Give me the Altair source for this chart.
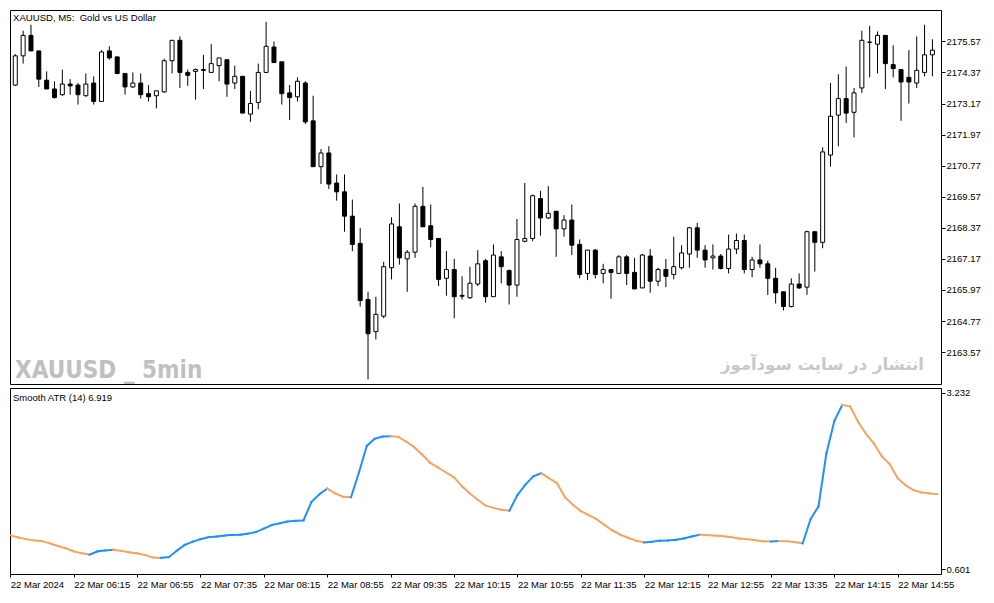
import altair as alt
import pandas as pd
import json

# ---- XAUUSD M5 candles (prices) ----
opens = [2173.88, 2175.01, 2175.80, 2175.20, 2174.07, 2173.73, 2173.51, 2173.92, 2173.88, 2173.47,
         2173.96, 2173.25, 2175.20, 2174.97, 2174.33, 2173.81, 2173.96, 2173.55, 2173.47, 2173.62,
         2174.82, 2175.61, 2174.37, 2174.41, 2174.48, 2174.37, 2174.63, 2174.86, 2173.96, 2174.22,
         2172.76, 2173.21, 2174.37, 2175.35, 2174.78, 2173.58, 2173.43, 2173.96, 2172.50, 2170.73,
         2171.26, 2170.10, 2169.76, 2168.82, 2167.77, 2165.60, 2164.36, 2164.96, 2166.83, 2168.41,
         2167.17, 2167.43, 2169.20, 2168.45, 2167.96, 2166.42, 2166.76, 2165.76, 2165.67, 2166.20,
         2167.10, 2165.71, 2167.25, 2166.72, 2166.16, 2167.85, 2167.96, 2169.50, 2168.75, 2169.01,
         2168.33, 2168.67, 2167.73, 2166.61, 2167.51, 2166.61, 2166.76, 2166.61, 2167.25, 2166.65,
         2166.05, 2167.28, 2166.31, 2166.76, 2166.57, 2166.83, 2167.36, 2168.37, 2167.51, 2167.21,
         2167.28, 2166.80, 2167.55, 2167.88, 2166.76, 2167.13, 2166.98, 2166.42, 2165.90, 2165.33,
         2166.20, 2166.08, 2168.22, 2167.81, 2171.18, 2172.72, 2173.36, 2172.83, 2173.77, 2175.53,
         2175.46, 2175.80, 2174.67, 2174.48, 2174.18, 2173.96, 2174.37, 2175.05]
highs = [2175.08, 2175.98, 2176.21, 2175.20, 2174.41, 2174.03, 2174.48, 2174.11, 2173.96, 2174.33,
         2174.22, 2175.23, 2175.38, 2174.97, 2174.33, 2174.37, 2174.33, 2173.88, 2173.66, 2174.90,
         2175.61, 2175.76, 2174.48, 2174.52, 2175.05, 2175.46, 2174.93, 2174.86, 2174.63, 2174.22,
         2173.66, 2174.71, 2176.32, 2175.57, 2174.78, 2173.88, 2174.18, 2174.03, 2173.47, 2171.41,
         2171.52, 2170.43, 2170.43, 2169.46, 2168.37, 2165.90, 2165.71, 2167.06, 2168.78, 2169.31,
         2167.51, 2169.31, 2169.95, 2169.27, 2167.96, 2167.47, 2167.17, 2166.50, 2166.87, 2167.51,
         2167.17, 2167.73, 2167.47, 2166.76, 2168.71, 2170.10, 2169.65, 2169.80, 2169.98, 2169.01,
         2168.86, 2169.27, 2167.92, 2167.51, 2167.55, 2166.98, 2166.76, 2167.32, 2167.32, 2167.21,
         2167.36, 2167.55, 2166.83, 2167.17, 2168.03, 2167.70, 2168.41, 2168.56, 2167.70, 2167.73,
         2167.36, 2168.11, 2168.15, 2168.11, 2167.25, 2167.73, 2167.10, 2166.83, 2165.90, 2166.42,
         2166.61, 2168.26, 2168.22, 2171.48, 2173.96, 2174.30, 2174.60, 2173.77, 2175.98, 2176.17,
         2175.95, 2175.80, 2175.42, 2174.48, 2175.23, 2175.76, 2176.21, 2175.65]
lows = [2173.85, 2174.71, 2175.20, 2173.81, 2173.73, 2173.36, 2173.47, 2173.51, 2173.13, 2173.43,
        2173.13, 2173.25, 2174.86, 2174.30, 2173.51, 2173.77, 2173.36, 2173.25, 2172.98, 2173.58,
        2174.33, 2173.77, 2173.85, 2173.32, 2173.73, 2174.37, 2174.03, 2173.43, 2173.73, 2172.80,
        2172.46, 2172.95, 2174.37, 2174.75, 2173.13, 2172.53, 2173.25, 2172.38, 2170.73, 2170.06,
        2169.87, 2169.42, 2168.22, 2167.47, 2165.33, 2162.52, 2164.06, 2164.88, 2166.38, 2166.95,
        2165.90, 2167.21, 2168.41, 2167.62, 2166.12, 2165.75, 2164.88, 2165.60, 2165.63, 2166.12,
        2165.48, 2165.71, 2166.23, 2165.41, 2165.71, 2167.81, 2167.85, 2168.07, 2168.71, 2167.25,
        2168.03, 2167.32, 2166.42, 2166.35, 2166.42, 2166.23, 2165.63, 2166.61, 2166.16, 2166.01,
        2166.05, 2165.86, 2166.12, 2166.08, 2166.38, 2166.76, 2166.83, 2167.21, 2166.83, 2166.76,
        2166.76, 2166.61, 2167.36, 2166.61, 2166.46, 2166.83, 2165.78, 2165.45, 2165.18, 2165.30,
        2166.01, 2165.78, 2166.68, 2167.58, 2170.73, 2171.52, 2172.42, 2171.86, 2173.58, 2174.18,
        2174.33, 2173.73, 2174.18, 2172.50, 2173.17, 2173.77, 2174.22, 2174.22]
closes = [2175.01, 2175.80, 2175.20, 2174.11, 2173.73, 2173.40, 2173.92, 2173.85, 2173.51, 2173.92,
          2173.25, 2175.16, 2174.93, 2174.33, 2173.81, 2173.96, 2173.51, 2173.43, 2173.66, 2174.82,
          2175.61, 2174.37, 2174.26, 2174.48, 2174.45, 2174.71, 2174.93, 2173.92, 2174.22, 2172.80,
          2173.17, 2174.37, 2175.38, 2174.75, 2173.55, 2173.40, 2174.03, 2172.46, 2170.73, 2171.26,
          2170.06, 2169.76, 2168.82, 2167.73, 2165.56, 2164.28, 2165.03, 2166.87, 2168.52, 2167.21,
          2167.43, 2169.20, 2168.41, 2167.92, 2166.38, 2166.76, 2165.71, 2165.73, 2166.23, 2166.98,
          2165.71, 2167.32, 2166.87, 2166.16, 2167.92, 2167.96, 2169.61, 2168.75, 2168.93, 2168.33,
          2168.67, 2167.70, 2166.57, 2167.51, 2166.57, 2166.76, 2166.65, 2167.25, 2166.61, 2166.01,
          2167.32, 2166.31, 2166.76, 2166.50, 2166.87, 2167.40, 2168.37, 2167.51, 2167.13, 2167.28,
          2166.80, 2167.55, 2167.88, 2166.76, 2167.13, 2166.98, 2166.42, 2165.86, 2165.33, 2166.20,
          2166.05, 2168.22, 2167.81, 2171.30, 2172.68, 2173.36, 2172.80, 2173.58, 2175.61, 2175.54,
          2175.80, 2174.71, 2174.52, 2174.00, 2174.00, 2174.45, 2175.05, 2175.23]

# ---- Smooth ATR (14) ----
atr = [1.108, 1.075, 1.051, 1.032, 1.022, 0.989, 0.950, 0.917, 0.870, 0.841,
       0.821, 0.870, 0.884, 0.893, 0.878, 0.855, 0.841, 0.816, 0.778, 0.773,
       0.783, 0.878, 0.965, 1.013, 1.051, 1.080, 1.090, 1.104, 1.114, 1.116,
       1.133, 1.157, 1.209, 1.262, 1.287, 1.315, 1.324, 1.330, 1.603, 1.718,
       1.804, 1.732, 1.683, 1.675, 2.043, 2.441, 2.546, 2.578, 2.583, 2.571,
       2.499, 2.417, 2.307, 2.187, 2.115, 2.043, 1.971, 1.837, 1.732, 1.636,
       1.550, 1.517, 1.488, 1.476, 1.708, 1.862, 1.985, 2.034, 1.957, 1.885,
       1.675, 1.564, 1.468, 1.410, 1.348, 1.262, 1.180, 1.118, 1.071, 1.028,
       1.003, 1.013, 1.028, 1.032, 1.042, 1.061, 1.090, 1.118, 1.112, 1.104,
       1.094, 1.080, 1.061, 1.051, 1.037, 1.020, 1.018, 1.022, 1.021, 1.008,
       0.989, 1.348, 1.540, 2.330, 2.811, 3.049, 3.026, 2.796, 2.618, 2.474,
       2.283, 2.164, 1.957, 1.852, 1.780, 1.747, 1.732, 1.722]

time_labels = ["22 Mar 2024", "22 Mar 06:15", "22 Mar 06:55", "22 Mar 07:35", "22 Mar 08:15",
               "22 Mar 08:55", "22 Mar 09:35", "22 Mar 10:15", "22 Mar 10:55", "22 Mar 11:35",
               "22 Mar 12:15", "22 Mar 12:55", "22 Mar 13:35", "22 Mar 14:15", "22 Mar 14:55"]
price_ticks = [2163.57, 2164.77, 2165.97, 2167.17, 2168.37, 2169.57,
               2170.77, 2171.97, 2173.17, 2174.37, 2175.57]
atr_ticks = [0.601, 3.232]

title_text = "XAUUSD, M5:\u00a0 Gold vs US Dollar"
watermark_text = "XAUUSD _ 5min"
site_text = "انتشار در سایت سودآموز"
atr_title = "Smooth ATR (14) 6.919"

# ---- tables ----
n = len(opens)
candles = pd.DataFrame({"k": list(range(n)), "open": opens, "high": highs,
                        "low": lows, "close": closes})
seg = pd.DataFrame({"k0": list(range(n - 1)), "k1": list(range(1, n)),
                    "v0": atr[:-1], "v1": atr[1:]})
seg["dir"] = ["up" if b > a else "down" for a, b in zip(atr[:-1], atr[1:])]

W, H1, H2 = 931, 374, 186
FONT = "Liberation Sans"
LBL = 9.5

xs = alt.Scale(domain=[-0.0375, 117.46], nice=False, zero=False)
ys = alt.Scale(domain=[2162.34, 2176.78], nice=False, zero=False)
ya = alt.Scale(domain=[0.533, 3.300], nice=False, zero=False)

price_axis = alt.Axis(orient="right", values=price_ticks, format=".2f", title=None,
                      grid=False, domain=False, tickSize=4, tickColor="black",
                      labelPadding=1, labelFont=FONT, labelFontSize=LBL,
                      labelColor="black", labelFlush=False, labelOverlap=False)

wicks = alt.Chart(candles).mark_rule(color="black", strokeWidth=1, clip=True).encode(
    x=alt.X("k:Q", scale=xs, axis=None),
    y=alt.Y("low:Q", scale=ys, axis=price_axis),
    y2="high:Q",
)
bodies = alt.Chart(candles).mark_bar(size=4, stroke="black", strokeWidth=1,
                                     orient="vertical", clip=True).encode(
    x=alt.X("k:Q", scale=xs, axis=None),
    y=alt.Y("open:Q", scale=ys, axis=price_axis),
    y2="close:Q",
    fill=alt.condition("datum.close >= datum.open", alt.value("white"), alt.value("black")),
)

title_mark = alt.Chart(pd.DataFrame({"t": [title_text]})).mark_text(
    align="left", baseline="alphabetic", font=FONT, fontSize=9.6, color="black"
).encode(x=alt.value(3), y=alt.value(11), text="t:N")

wm_mark = alt.Chart(pd.DataFrame({"t": [watermark_text]})).mark_text(
    align="left", baseline="alphabetic", font="Liberation Sans Narrow, DejaVu Sans Condensed, sans-serif",
    fontSize=24, fontWeight="bold", color="#c0c0c0"
).encode(x=alt.value(5), y=alt.value(368), text="t:N")

site_mark = alt.Chart(pd.DataFrame({"t": [site_text]})).mark_text(
    align="right", baseline="alphabetic", font="DejaVu Sans", fontSize=16.5,
    fontWeight="bold", color="#c8c8c8"
).encode(x=alt.value(914), y=alt.value(360), text="t:N")

top = alt.layer(wicks, bodies, title_mark, wm_mark, site_mark).properties(width=W, height=H1)

labels_js = json.dumps(time_labels)
time_axis = alt.Axis(orient="bottom", values=list(range(0, 113, 8)),
                     labelExpr=labels_js + "[round(datum.value / 8)]",
                     labelAlign="left", labelBaseline="top", labelPadding=2, tickSize=3,
                     tickColor="black", domain=False, grid=False, title=None,
                     labelFont=FONT, labelFontSize=LBL, labelColor="black",
                     labelFlush=False, labelOverlap=False, labelBound=False)
atr_axis = alt.Axis(orient="right", values=atr_ticks, format=".3f", title=None,
                    grid=False, domain=False, tickSize=4, tickColor="black",
                    labelPadding=1, labelFont=FONT, labelFontSize=LBL,
                    labelColor="black", labelFlush=False, labelOverlap=False)

atr_line = alt.Chart(seg).mark_rule(strokeWidth=2, strokeCap="square", clip=True).encode(
    x=alt.X("k0:Q", scale=xs, axis=time_axis),
    x2="k1:Q",
    y=alt.Y("v0:Q", scale=ya, axis=atr_axis),
    y2="v1:Q",
    color=alt.Color("dir:N", scale=alt.Scale(domain=["up", "down"],
                                             range=["#1e90ff", "#f4a460"]), legend=None),
)
atr_title_mark = alt.Chart(pd.DataFrame({"t": [atr_title]})).mark_text(
    align="left", baseline="alphabetic", font=FONT, fontSize=9.5, color="black"
).encode(x=alt.value(3), y=alt.value(13), text="t:N")

bottom = alt.layer(atr_line, atr_title_mark).properties(width=W, height=H2)

chart = alt.vconcat(top, bottom, spacing=2).properties(
    padding={"left": 1, "top": 1, "right": 2, "bottom": 2},
    background="white",
).configure_view(stroke="black", strokeWidth=1)

chart.save("out.html", embed_options={"renderer": "svg", "actions": False})
